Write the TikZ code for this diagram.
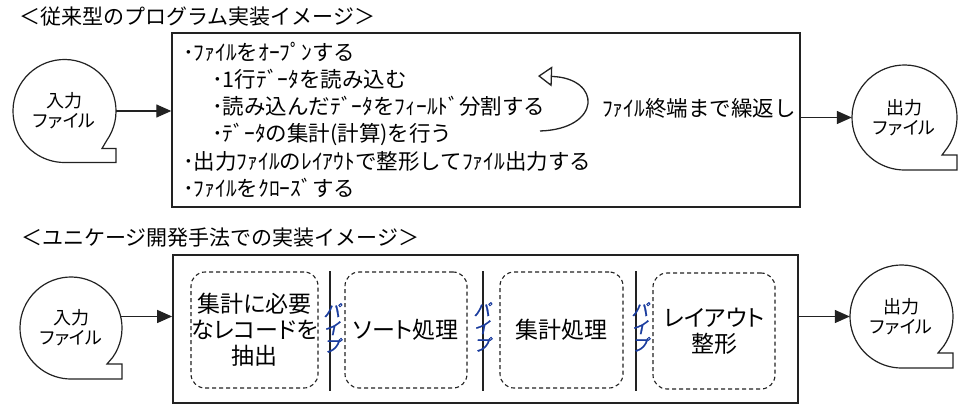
\documentclass[tikz,border=0pt]{standalone}
\usepackage{fontspec}
\setmainfont{Noto Sans CJK JP}
\newfontfamily\jpp[RawFeature=+palt]{Noto Sans CJK JP}
\newfontfamily\pipefont[FakeSlant=0.2,FakeBold=1.2]{Noto Sans CJK JP}
\usetikzlibrary{arrows.meta,calc}
\definecolor{ln}{HTML}{222222}
\definecolor{pipeblue}{HTML}{1A3C9E}
\newcommand\tapeoutline[3]{% node name, radius, step
  \draw[tapeline] ($(#1.center)+(35:#2)$) arc[start angle=35,end angle=-270,radius=#2]
    -- ++(#2,0) -- ++(0,-#3) -- ++(-#3,0) -- cycle;}
\begin{document}
\begin{tikzpicture}[x=1pt,y=-1pt,
  title/.style={font=\fontsize{21}{24}\selectfont, anchor=west, inner sep=0},
  body/.style={font=\fontsize{21.5}{24}\selectfont, anchor=west, inner sep=0},
  tape/.style={circle, inner sep=0, align=center, font=\jpp\fontsize{18}{20}\selectfont},
  tapeline/.style={draw=ln, line width=1.2pt, fill=white},
  bigbox/.style={draw=ln, line width=1.4pt},
  proc/.style={draw=ln, line width=1.1pt, dash pattern=on 4pt off 3pt, rounded corners=14pt,
    minimum height=116, align=center, inner sep=0, font=\jpp\fontsize{23}{26}\selectfont},
  sepline/.style={draw=ln, line width=1.4pt},
  pipe/.style={align=center, inner sep=0, text=pipeblue,
    font=\pipefont\fontsize{17}{17.5}\selectfont},
  arr/.style={draw=ln, line width=1.3pt, -{Triangle[length=15pt,width=13pt]}},
  looparr/.style={draw=ln, line width=1.3pt, -{Triangle[open,length=14pt,width=20pt]}}]
\useasboundingbox (0,0) rectangle (960,409);
\fill[white] (0,0) rectangle (960,409);

% titles
\node[title] (t1) at (19,16.5) {＜従来型のプログラム実装イメージ＞};
\node[title] (t2) at (21,238) {＜ユニケージ開発手法での実装イメージ＞};

% top box
\node[bigbox, minimum width=628, minimum height=174] (box1) at (486,120) {};
\node[body] (l1) at (183,52) {･ﾌｧｲﾙをｵｰﾌﾟﾝする};
\node[body] (l2) at (212,79) {･1行ﾃﾞｰﾀを読み込む};
\node[body] (l3) at (212,106) {･読み込んだﾃﾞｰﾀをﾌｨｰﾙﾄﾞ分割する};
\node[body] (l4) at (212,134) {･ﾃﾞｰﾀの集計(計算)を行う};
\node[body] (l5) at (183,161) {･出力ﾌｧｲﾙのﾚｲｱｳﾄで整形してﾌｧｲﾙ出力する};
\node[body] (l6) at (183,188) {･ﾌｧｲﾙをｸﾛｰｽﾞする};
\node[body] (rep) at (602,108) {ﾌｧｲﾙ終端まで繰返し};
\coordinate (lpa) at (540,131);
\coordinate (lpb) at (538,76);
\draw[looparr] (lpa) .. controls (602,129) and (602,78) .. (lpb);

% tapes
\node[tape, minimum size=103] (in1) at (64.5,111) {};
\tapeoutline{in1}{51.5}{14}
\node[tape] (in1t) at (in1.center) {入力\\ファイル};
\node[tape, minimum size=105] (out1) at (904.5,117.5) {};
\tapeoutline{out1}{52.5}{15}
\node[tape] (out1t) at (out1.center) {出力\\ファイル};
\node[tape, minimum size=102] (in2) at (71,328) {};
\tapeoutline{in2}{51}{15}
\node[tape] (in2t) at (in2.center) {入力\\ファイル};
\node[tape, minimum size=103] (out2) at (901.5,316.5) {};
\tapeoutline{out2}{51.5}{15}
\node[tape] (out2t) at (out2.center) {出力\\ファイル};

% bottom box
\node[bigbox, line width=1.8pt, minimum width=625, minimum height=148] (box2) at (485.5,329) {};
\node[proc, minimum width=127] (pr1) at (254.5,330) {集計に必要\\なレコードを\\抽出};
\node[proc, minimum width=122] (pr2) at (406,330) {ソート処理};
\node[proc, minimum width=123] (pr3) at (561.5,330) {集計処理};
\node[proc, minimum width=122] (pr4) at (714,331) {レイアウト\\整形};
\draw[sepline] (330,271) -- (330,391);
\draw[sepline] (483,271) -- (483,391);
\draw[sepline] (636,271) -- (636,391);
\node[pipe] (p1) at (332,328) {パ\\イ\\プ};
\node[pipe] (p2) at (482,327) {パ\\イ\\プ};
\node[pipe] (p3) at (640,327) {パ\\イ\\プ};

% connectors
\draw[arr] (in1.east) -- (in1.east -| box1.west);
\draw[arr] (box1.east |- out1.west) -- (out1.west);
\draw[arr] (in2.13) -- (in2.13 -| box2.west);
\draw[arr] (box2.east |- out2.west) -- (out2.west);
\end{tikzpicture}
\end{document}
